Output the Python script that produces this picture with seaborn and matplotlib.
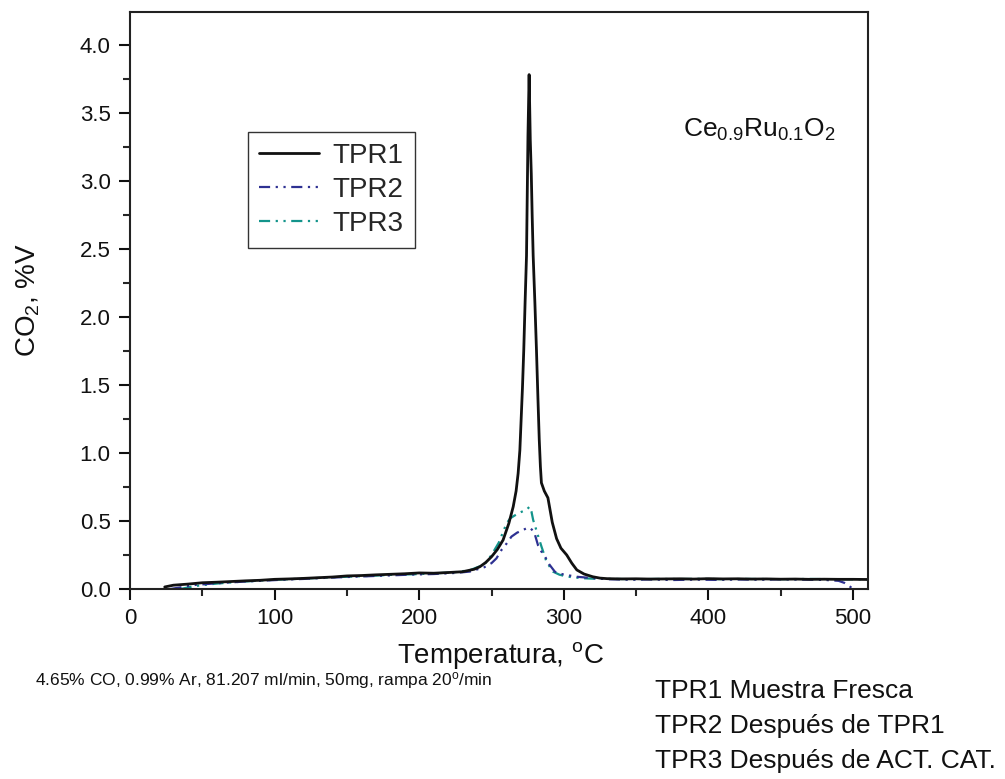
import matplotlib
matplotlib.use("Agg")
import matplotlib.pyplot as plt
from matplotlib.ticker import MultipleLocator, FormatStrFormatter
import pandas as pd
import seaborn as sns

# TPR1: fresh sample
t1 = [24, 30, 40, 50, 60, 70, 80, 90, 100, 110, 120, 130, 140, 150, 160, 170,
      180, 190, 200, 210, 220, 230, 238, 242, 246, 250, 254, 258, 262, 265,
      267, 268.4, 269.6, 270.5, 271.4, 272.3, 273.2, 274.2, 275.2, 276.0,
      276.8, 277.5, 278.1, 278.8, 280.0, 281.1, 282.1, 283.0, 283.8, 284.5,
      286.5, 289.0, 292.0, 295.0, 298.0, 302.0, 305.5, 309.0, 314.0, 320.0,
      325.0, 330, 340, 350, 360, 370, 380, 390, 400, 410, 420, 430, 440, 450,
      460, 470, 480, 490, 500, 510]
v1 = [0.015, 0.028, 0.036, 0.046, 0.050, 0.055, 0.060, 0.064, 0.071, 0.074,
      0.078, 0.083, 0.088, 0.096, 0.099, 0.104, 0.108, 0.112, 0.118, 0.116,
      0.121, 0.127, 0.145, 0.164, 0.195, 0.237, 0.290, 0.360, 0.483, 0.605,
      0.720, 0.850, 1.020, 1.250, 1.480, 1.757, 2.100, 2.450, 3.330, 3.780,
      3.300, 3.050, 2.750, 2.450, 2.100, 1.750, 1.400, 1.100, 0.900, 0.780,
      0.720, 0.670, 0.490, 0.370, 0.300, 0.250, 0.190, 0.140, 0.110, 0.090,
      0.080, 0.076, 0.074, 0.075, 0.073, 0.074, 0.075, 0.073, 0.076, 0.074,
      0.075, 0.073, 0.074, 0.072, 0.073, 0.071, 0.072, 0.071, 0.071, 0.070]

# TPR2: after TPR1
t2 = [28, 35, 45, 60, 75, 90, 105, 120, 135, 150, 165, 180, 195, 210, 225,
      235, 245, 250, 253.4, 256.9, 260.5, 263.8, 267.7, 271.0, 274.2, 276.5,
      278.5, 280.0, 282.2, 284.5, 286.9, 290.0, 293.8, 297.5, 301.9, 308.8,
      320, 330, 345, 360, 375, 390, 405, 420, 435, 450, 465, 480, 490, 494,
      497, 500]
v2 = [0.000, 0.012, 0.030, 0.042, 0.052, 0.060, 0.068, 0.074, 0.082, 0.088,
      0.094, 0.100, 0.106, 0.110, 0.118, 0.128, 0.160, 0.190, 0.225, 0.287,
      0.335, 0.385, 0.414, 0.430, 0.446, 0.450, 0.430, 0.400, 0.320, 0.275,
      0.240, 0.180, 0.127, 0.112, 0.103, 0.090, 0.080, 0.072, 0.068, 0.070,
      0.066, 0.069, 0.067, 0.070, 0.068, 0.071, 0.069, 0.067, 0.060, 0.045,
      0.025, 0.000]

# TPR3: after catalytic activity
t3 = [35, 45, 60, 75, 90, 105, 120, 135, 150, 165, 180, 195, 210, 225, 235,
      245, 250, 255, 260.3, 263.0, 266.0, 269.2, 272.5, 274.5, 276.3, 277.6,
      278.8, 280.5, 282.5, 284.6, 286.5, 288.0, 290.5, 292.6, 297.0, 302.0,
      307.0, 313.6, 320, 335, 350, 365, 380, 395, 410, 425, 440, 455, 470,
      485, 500, 510]
v3 = [0.000, 0.022, 0.040, 0.052, 0.062, 0.070, 0.076, 0.084, 0.090, 0.096,
      0.104, 0.108, 0.114, 0.124, 0.138, 0.180, 0.250, 0.340, 0.480, 0.520,
      0.540, 0.560, 0.575, 0.585, 0.605, 0.570, 0.507, 0.450, 0.380, 0.310,
      0.250, 0.200, 0.160, 0.127, 0.105, 0.092, 0.085, 0.079, 0.076, 0.074,
      0.072, 0.074, 0.073, 0.075, 0.072, 0.074, 0.073, 0.072, 0.074, 0.072,
      0.071, 0.070]

series_names = ["TPR1", "TPR2", "TPR3"]
series_colors = ["#111111", "#2E3192", "#13948B"]
dash_dot_dot = (0, (5, 2.5, 1, 2.5, 1, 2.5))
series_styles = ["-", dash_dot_dot, dash_dot_dot]
series_widths = [2.0, 1.6, 1.6]

footer_note = "4.65% CO, 0.99% Ar, 81.207 ml/min, 50mg, rampa 20$^{o}$/min"
sample_notes = ["TPR1 Muestra Fresca", "TPR2 Después de TPR1",
                "TPR3 Después de ACT. CAT."]

sns.set_theme(style="ticks")
plt.rcParams["font.family"] = ["Liberation Sans", "DejaVu Sans"]
plt.rcParams["mathtext.default"] = "regular"
plt.rcParams["axes.linewidth"] = 1.5

W, H = 1005, 779
fig = plt.figure(figsize=(W / 100, H / 100), dpi=100)
ax = fig.add_axes([130 / W, 1 - 589 / H, (867.5 - 130) / W, (589 - 12) / H])

frames = {}
for name, t, v in zip(series_names, [t1, t2, t3], [v1, v2, v3]):
    frames[name] = pd.DataFrame({"T": t, "CO2": v})

# reruns first, fresh sample drawn on top
for name, color, ls, lw in list(zip(series_names, series_colors,
                                    series_styles, series_widths))[::-1]:
    sns.lineplot(data=frames[name], x="T", y="CO2", ax=ax, color=color,
                 linewidth=lw, linestyle=ls, sort=False, estimator=None,
                 label=name, legend=False)

ax.set_xlim(0, 510)
ax.set_ylim(0, 4.24)
ax.xaxis.set_major_locator(MultipleLocator(100))
ax.xaxis.set_minor_locator(MultipleLocator(50))
ax.yaxis.set_major_locator(MultipleLocator(0.5))
ax.yaxis.set_minor_locator(MultipleLocator(0.25))
ax.yaxis.set_major_formatter(FormatStrFormatter("%.1f"))
ax.tick_params(which="major", direction="out", length=8, width=1.5,
               labelsize=16, colors="#111111", pad=6)
ax.tick_params(which="minor", direction="out", length=5, width=1.5)
for side in ["top", "right", "left", "bottom"]:
    ax.spines[side].set_visible(True)
    ax.spines[side].set_color("#222222")

ax.set_xlabel("Temperatura, $^{o}$C", fontsize=20, color="#111111")
ax.xaxis.set_label_coords(0.502, -0.115)
ax.xaxis.label.set_va("center")
ax.set_ylabel("CO$_2$, %V", fontsize=20, color="#111111")
ax.yaxis.set_label_coords(-0.138, 0.50)
ax.yaxis.label.set_va("center")

handles, labels = ax.get_legend_handles_labels()
order = [labels.index(n) for n in series_names]
leg = ax.legend([handles[i] for i in order], [labels[i] for i in order],
                loc="upper left", bbox_to_anchor=(0.16, 0.792),
                borderaxespad=0, fontsize=20, frameon=True, fancybox=False,
                framealpha=1, edgecolor="#333333", handlelength=2.15,
                handletextpad=0.5, borderpad=0.4, labelspacing=0.28)
leg.get_frame().set_linewidth(1.0)

ax.text(0.75, 0.795, "Ce$_{0.9}$Ru$_{0.1}$O$_2$", transform=ax.transAxes,
        fontsize=19, va="center", ha="left", color="#111111")

fig.text(35 / W, 1 - 680 / H, footer_note, fontsize=12.5,
         ha="left", va="center", color="#111111")
for i, note in enumerate(sample_notes):
    fig.text(655 / W, 1 - (691 + 35 * i) / H, note, fontsize=19,
             ha="left", va="center", color="#111111")

fig.savefig("out.png", dpi=100, facecolor="white")
